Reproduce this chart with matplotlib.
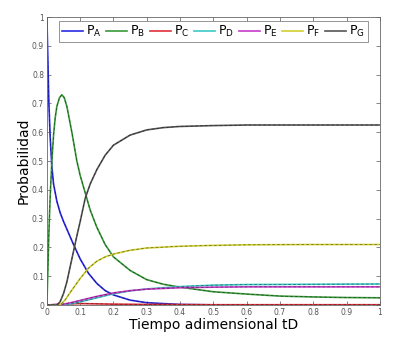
import matplotlib
matplotlib.use("Agg")
import matplotlib.pyplot as plt

# time samples and probabilities
t_A = [0, 0.003, 0.006, 0.01, 0.015, 0.02, 0.03, 0.04, 0.05, 0.065, 0.08, 0.1, 0.125, 0.15, 0.175, 0.2, 0.25, 0.3, 0.4, 0.5, 0.7, 1.0]
p_A = [1.0, 0.85, 0.7, 0.58, 0.48, 0.42, 0.36, 0.32, 0.29, 0.25, 0.21, 0.16, 0.11, 0.075, 0.05, 0.035, 0.017, 0.008, 0.002, 0.0005, 0.0, 0.0]

t_B = [0, 0.003, 0.006, 0.01, 0.015, 0.02, 0.025, 0.03, 0.038, 0.045, 0.052, 0.06, 0.075, 0.09, 0.1, 0.115, 0.13, 0.15, 0.175, 0.2, 0.25, 0.3, 0.35, 0.4, 0.5, 0.6, 0.7, 0.8, 0.9, 1.0]
p_B = [0.0, 0.12, 0.25, 0.38, 0.5, 0.59, 0.65, 0.69, 0.72, 0.73, 0.72, 0.69, 0.6, 0.5, 0.45, 0.39, 0.33, 0.27, 0.21, 0.167, 0.12, 0.088, 0.072, 0.062, 0.046, 0.038, 0.031, 0.028, 0.026, 0.025]

t_C = [0, 0.05, 0.1, 0.15, 0.2, 0.3, 0.5, 1.0]
p_C = [0.0, 0.003, 0.005, 0.004, 0.003, 0.002, 0.001, 0.001]

t_D = [0, 0.05, 0.075, 0.1, 0.15, 0.2, 0.25, 0.3, 0.4, 0.5, 0.6, 0.8, 1.0]
p_D = [0.0, 0.001, 0.005, 0.011, 0.025, 0.039, 0.049, 0.056, 0.064, 0.069, 0.071, 0.072, 0.073]

t_E = [0, 0.05, 0.075, 0.1, 0.15, 0.2, 0.25, 0.3, 0.4, 0.5, 0.6, 0.8, 1.0]
p_E = [0.0, 0.003, 0.009, 0.016, 0.03, 0.042, 0.05, 0.055, 0.06, 0.062, 0.063, 0.063, 0.063]

t_F = [0, 0.035, 0.045, 0.055, 0.065, 0.08, 0.1, 0.125, 0.15, 0.175, 0.2, 0.25, 0.3, 0.4, 0.5, 0.6, 0.8, 1.0]
p_F = [0.0, 0.0, 0.006, 0.018, 0.035, 0.06, 0.092, 0.128, 0.152, 0.167, 0.177, 0.19, 0.198, 0.204, 0.207, 0.209, 0.21, 0.21]

t_G = [0, 0.03, 0.04, 0.05, 0.06, 0.075, 0.09, 0.1, 0.115, 0.13, 0.15, 0.175, 0.2, 0.25, 0.3, 0.35, 0.4, 0.5, 0.6, 0.8, 1.0]
p_G = [0.0, 0.0, 0.012, 0.04, 0.08, 0.16, 0.24, 0.29, 0.37, 0.42, 0.47, 0.52, 0.555, 0.59, 0.608, 0.616, 0.62, 0.623, 0.625, 0.625, 0.625]

series = [
    (t_A, p_A, "#2a2ae6", r"$\mathregular{P_A}$"),
    (t_B, p_B, "#3a9a3a", r"$\mathregular{P_B}$"),
    (t_C, p_C, "#e0303a", r"$\mathregular{P_C}$"),
    (t_D, p_D, "#3cc8c8", r"$\mathregular{P_D}$"),
    (t_E, p_E, "#c83cc8", r"$\mathregular{P_E}$"),
    (t_F, p_F, "#d0d030", r"$\mathregular{P_F}$"),
    (t_G, p_G, "#555555", r"$\mathregular{P_G}$"),
]

fig = plt.figure(figsize=(3.94, 3.47), dpi=100)
ax = fig.add_axes([0.119, 0.121, 0.845, 0.830])

for t, p, c, lab in series:
    ax.plot(t, p, color=c, lw=1.2, label=lab)
    ax.plot(t, p, color="k", lw=0.5, ls=(0, (4, 3)), alpha=0.5)

ax.set_xlim(0, 1)
ax.set_ylim(0, 1)
ticks = [i / 10 for i in range(11)]
labels = ["0"] + ["%.1f" % v for v in ticks[1:-1]] + ["1"]
ax.set_xticks(ticks)
ax.set_xticklabels(labels)
ax.set_yticks(ticks)
ax.set_yticklabels(labels)
ax.tick_params(direction="in", length=3, width=0.5, labelsize=5.5, colors="#555555",
               top=True, right=True, pad=2)
for s in ax.spines.values():
    s.set_linewidth(0.6)
    s.set_color("#666666")

ax.set_xlabel("Tiempo adimensional tD", fontsize=10, labelpad=1)
ax.set_ylabel("Probabilidad", fontsize=10, labelpad=1)

leg = ax.legend(loc="upper center", ncol=7, fontsize=9, frameon=True, fancybox=False,
                handlelength=1.7, handletextpad=0.25, columnspacing=0.35,
                borderaxespad=0.3, borderpad=0.25)
leg.get_frame().set_edgecolor("#666666")
leg.get_frame().set_linewidth(0.6)

fig.savefig("out.png", dpi=100)
